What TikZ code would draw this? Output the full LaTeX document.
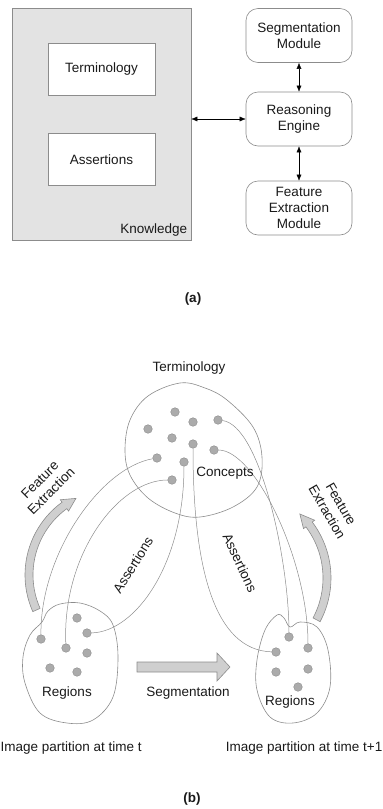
\documentclass[tikz,border=0pt]{standalone}
\usepackage{fontspec}
\setmainfont{Liberation Sans}
\usetikzlibrary{arrows.meta}
\definecolor{linegray}{HTML}{8C8C8C}
\definecolor{boxgray}{HTML}{E3E3E3}
\definecolor{dotgray}{HTML}{ABABAB}
\definecolor{arrowgray}{HTML}{CFCFCF}
\definecolor{txt}{HTML}{1A1A1A}

\begin{document}
\begin{tikzpicture}[x=1pt,y=-1pt,>={Latex[length=6pt,width=5pt]},
  font=\fontsize{13.5}{16}\selectfont,text=txt,
  box/.style={draw=linegray,fill=white,line width=0.6pt,minimum width=107pt,minimum height=52pt},
  module/.style={box,rounded corners=12pt,minimum width=106pt,minimum height=54pt,align=center},
  dot/.style={circle,draw=linegray,fill=dotgray,minimum size=8.6pt,inner sep=0pt},
  link/.style={draw=linegray,line width=0.5pt},
  blob/.style={draw=linegray,line width=0.6pt},
  fat/.style={draw=linegray,fill=arrowgray,line width=0.6pt},
  caption/.style={font=\fontsize{13.5}{16}\selectfont\bfseries}]
\useasboundingbox (0,0) rectangle (383,809);

% (a) architecture
\node[draw=linegray,fill=boxgray,line width=0.6pt,minimum width=179pt,minimum height=232pt] (know) at (101.5,124) {};
\node[box] (term) at (101.5,69) {Terminology};
\node[box] (asrt) at (101.5,159.5) {Assertions};
\node[anchor=south east,inner sep=4pt] (knowlbl) at (know.south east) {Knowledge};
\node[module] (seg) at (299,35.5) {Segmentation\\Module};
\node[module] (reas) at (299,119) {Reasoning\\Engine};
\node[module] (feat) at (299,208) {Feature\\Extraction\\Module};
\draw[<->] (reas.west -| know.east) -- (reas.west);
\draw[<->] (seg) -- (reas);
\draw[<->] (reas) -- (feat);
\node[caption] (capa) at (193,299) {(a)};

% (b) interpretation cycle
\node (termlbl) at (189,368) {Terminology};
\draw[blob] plot[smooth cycle,tension=0.6] coordinates {(180,383) (148,396) (130,420) (125,450) (130,475) (148,498) (175,513) (200,517) (233,507) (257,487) (262,457) (253,427) (227,400) (205,388)};
\draw[blob] plot[smooth cycle,tension=0.6] coordinates {(42,622) (48,611) (60,604) (80,603) (100,611) (113,625) (118,657) (113,697) (93,720) (67,723) (40,713) (25,683) (23,657) (30,635)};
\draw[blob] plot[smooth cycle,tension=0.6] coordinates {(265,630) (277,615) (284,618) (290,627) (300,622) (317,627) (328,650) (330,687) (317,713) (293,723) (270,717) (257,690) (257,660)};

\foreach \n/\p in {c1/{175,412},c2/{193,422},c3/{218,420},c4/{148,429},c5/{172,438},
  c6/{193,444},c7/{214,450},c8/{157,458},c9/{184,462},c10/{172,480},
  l1/{41,639},l2/{77,618},l3/{87,633},l4/{66,648},l5/{87,653},l6/{50,668},l7/{77,672},
  r1/{289,637},r2/{308,648},r3/{276,652},r4/{276,672},r5/{308,669},r6/{298,687}}
  \node[dot] (\n) at (\p) {};

% assertions
\draw[link] (c8) .. controls (100,468) and (40,555) .. (l1);
\draw[link] (c10) .. controls (118,480) and (62,555) .. (l4);
\draw[link] (c9) .. controls (184,565) and (135,632) .. (l3);
\draw[link] (c6) .. controls (193,570) and (215,650) .. (r3);
\draw[link] (c3) .. controls (260,425) and (289,560) .. (r1);
\draw[link] (c7) .. controls (255,450) and (308,560) .. (r2);

% block arrows
\draw[fat] (137,662) -- (217,662) -- (217,653) -- (230,667) -- (217,681) -- (217,672) -- (137,672) -- cycle;
\draw[fat] plot[domain=156:234,samples=25] ({115+90*cos(\x)},{575+90*sin(\x)})
  -- ({115+93*cos(234)},{575+93*sin(234)}) -- ({115+86*cos(243)},{575+86*sin(243)})
  -- ({115+79*cos(234)},{575+79*sin(234)})
  -- plot[domain=234:156,samples=25] ({115+82*cos(\x)},{575+82*sin(\x)}) -- cycle;
\draw[fat] plot[domain=28:-37,samples=25] ({238+93*cos(\x)},{578+93*sin(\x)})
  -- ({238+96*cos(-37)},{578+96*sin(-37)}) -- ({238+89*cos(-46)},{578+89*sin(-46)})
  -- ({238+82*cos(-37)},{578+82*sin(-37)})
  -- plot[domain=-37:28,samples=25] ({238+85*cos(\x)},{578+85*sin(\x)}) -- cycle;

\node (conc) at (225,473) {Concepts};
\node[align=center,rotate=45] (fel) at (45.5,485.5) {Feature\\Extraction};
\node[align=center,rotate=-60] (fer) at (334,508) {Feature\\Extraction};
\node[rotate=58] (asl) at (133,565) {Assertions};
\node[rotate=-65] (asr) at (240,563) {Assertions};
\node (regl) at (67,693) {Regions};
\node (regr) at (290,702) {Regions};
\node (seglbl) at (188,693) {Segmentation};
\node[anchor=west,inner sep=0pt] (partl) at (0.5,748) {Image partition at time t};
\node[anchor=east,inner sep=0pt] (partr) at (382.5,748) {Image partition at time t+1};
\node[caption] (capb) at (192,799) {(b)};
\end{tikzpicture}
\end{document}
